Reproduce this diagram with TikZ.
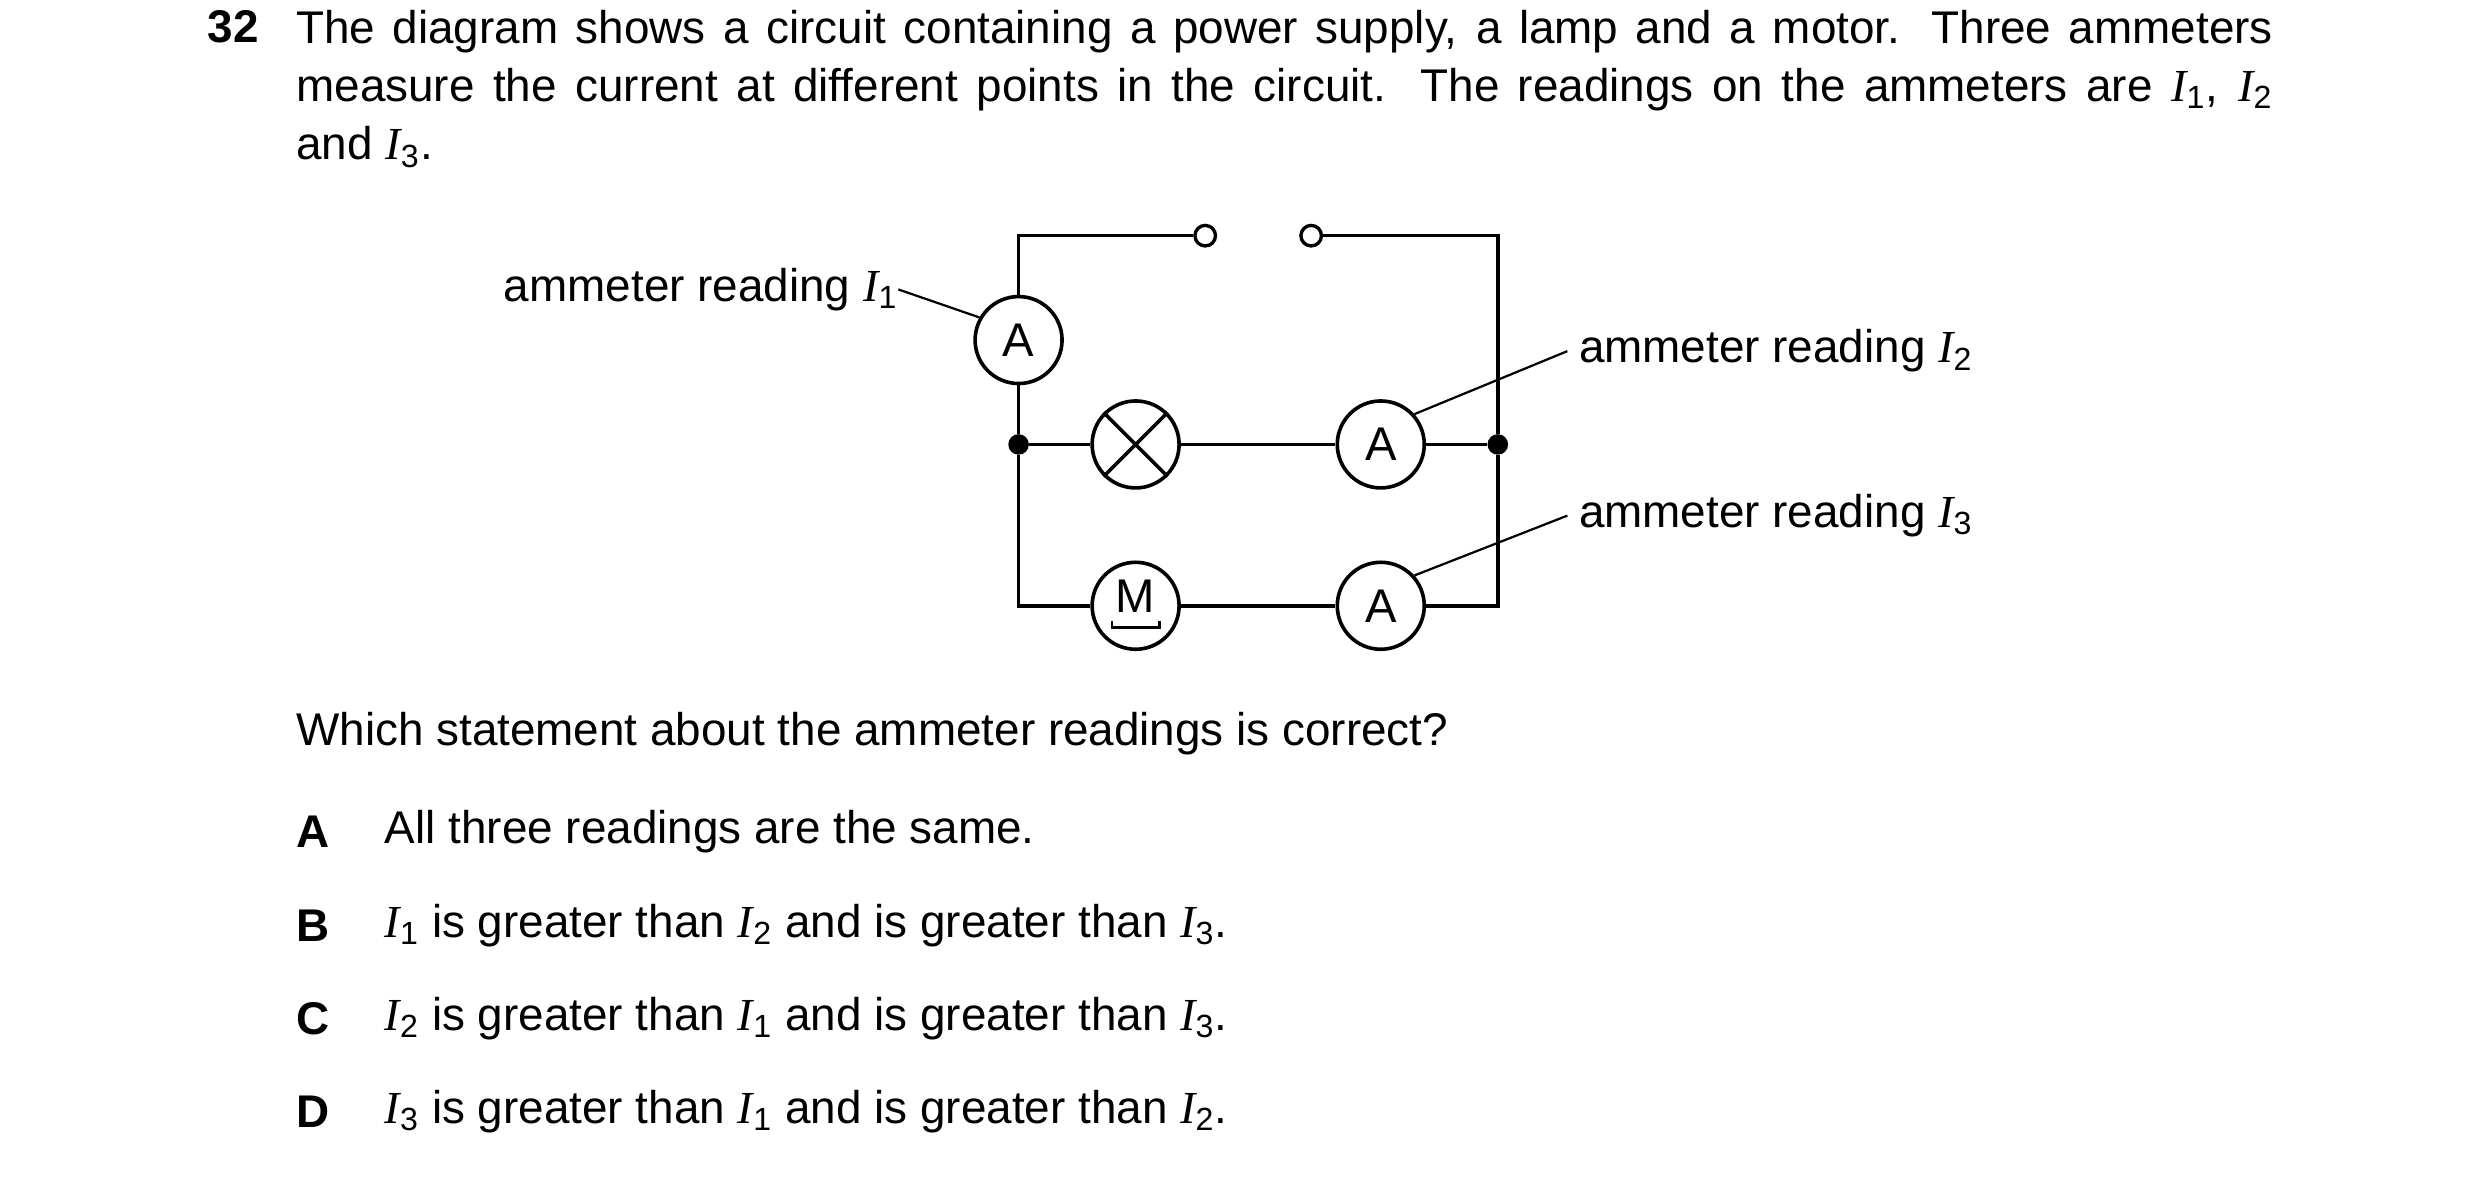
\documentclass[tikz,border=0pt]{standalone}
\usepackage{fontspec}
\setmainfont{Liberation Sans}
\newfontfamily\serifit{Liberation Serif}
\usepackage{tikz}
\usetikzlibrary{
    positioning,      % relative placement
    calc
}
\newcommand{\Irdg}[1]{{\serifit\itshape I}\textsubscript{#1}}

\begin{document}
\begin{tikzpicture}[
    x=0.02cm, y=-0.02cm,
    % wire style
    wire/.style={line width=1.3pt},
    % meter and component circles
    meter_style/.style={circle, draw, line width=1.3pt, minimum size=1.1cm, inner sep=0pt, font=\fontsize{17}{17}\selectfont},
    % terminals and junctions
    term_style/.style={circle, draw, fill=white, line width=1.2pt, minimum size=0.26cm, inner sep=0pt},
    dot_style/.style={circle, fill=black, minimum size=0.26cm, inner sep=0pt},
    label_style/.style={font=\fontsize{16.5}{16.5}\selectfont, inner sep=0pt},
    body_style/.style={font=\fontsize{16.5}{21}\selectfont, inner sep=0pt}
]
    \useasboundingbox (0,0) rectangle (1568,744);

    % 1. Question text
    \node[body_style, anchor=north west, font=\fontsize{16.5}{21}\selectfont\bfseries] (qnum) at (131,6) {32};
    \node[body_style, anchor=north west, text width=25cm, align=justify] (qtext) at (187,6)
        {The diagram shows a circuit containing a power supply, a lamp and a motor. Three ammeters\linebreak
         measure the current at different points in the circuit. The readings on the ammeters are \Irdg{1}, \Irdg{2}\linebreak
         and \Irdg{3}.\par};

    % 2. Components
    \node[term_style] (tleft) at (762,149) {};
    \node[term_style] (tright) at (829,149) {};
    \node[meter_style] (amp1) at (644,215) {A};
    \node[dot_style] (jleft) at (644,281) {};
    \node[dot_style] (jright) at (947,281) {};
    \node[meter_style] (lamp) at (718,281) {};
    \node[meter_style] (amp2) at (873,281) {A};
    \node[meter_style] (motor) at (718,383) {};
    \node[meter_style] (amp3) at (873,383) {A};
    \coordinate (ctopleft) at (644,149);
    \coordinate (ctopright) at (947,149);
    \coordinate (cbotleft) at (644,383);
    \coordinate (cbotright) at (947,383);

    % lamp cross and motor letter
    \draw[wire] (lamp.45) -- (lamp.225) (lamp.135) -- (lamp.315);
    \node[label_style, font=\fontsize{17}{17}\selectfont] (mletter) at (718,377) {M};
    \draw[line width=1pt] ([xshift=-0.3cm,yshift=-0.1cm]mletter.south) -- ++(0cm,-0.08cm) -- ++(0.6cm,0cm) -- ++(0cm,0.08cm);

    % 3. Wires
    \draw[wire] (tleft) -- (ctopleft) -- (amp1) -- (jleft) -- (cbotleft) -- (motor) -- (amp3) -- (cbotright) -- (jright) -- (ctopright) -- (tright);
    \draw[wire] (jleft) -- (lamp) -- (amp2) -- (jright);

    % 4. Labels
    \node[label_style, anchor=east] (lab1) at (568,183) {ammeter reading \Irdg{1}};
    \node[label_style, anchor=west] (lab2) at (998,222) {ammeter reading \Irdg{2}};
    \node[label_style, anchor=west] (lab3) at (998,326) {ammeter reading \Irdg{3}};
    \draw[line width=0.8pt] (lab1.east) -- (amp1.150);
    \draw[line width=0.8pt] ([xshift=-4pt]lab2.west) -- (amp2.42);
    \draw[line width=0.8pt] ([xshift=-4pt]lab3.west) -- (amp3.42);

    % 5. Options
    \node[body_style, anchor=west] (ask) at (187,464) {Which statement about the ammeter readings is correct?};
    \foreach \letter/\ypos/\txt in {
        A/526/{All three readings are the same.},
        B/585/{\Irdg{1} is greater than \Irdg{2} and is greater than \Irdg{3}.},
        C/644/{\Irdg{2} is greater than \Irdg{1} and is greater than \Irdg{3}.},
        D/703/{\Irdg{3} is greater than \Irdg{1} and is greater than \Irdg{2}.}}{
        \node[body_style, anchor=west, font=\fontsize{16.5}{21}\selectfont\bfseries] (opt\letter) at (187,\ypos) {\letter};
        \node[body_style, anchor=west] (txt\letter) at (243,\ypos) {\txt};
    }
\end{tikzpicture}
\end{document}
